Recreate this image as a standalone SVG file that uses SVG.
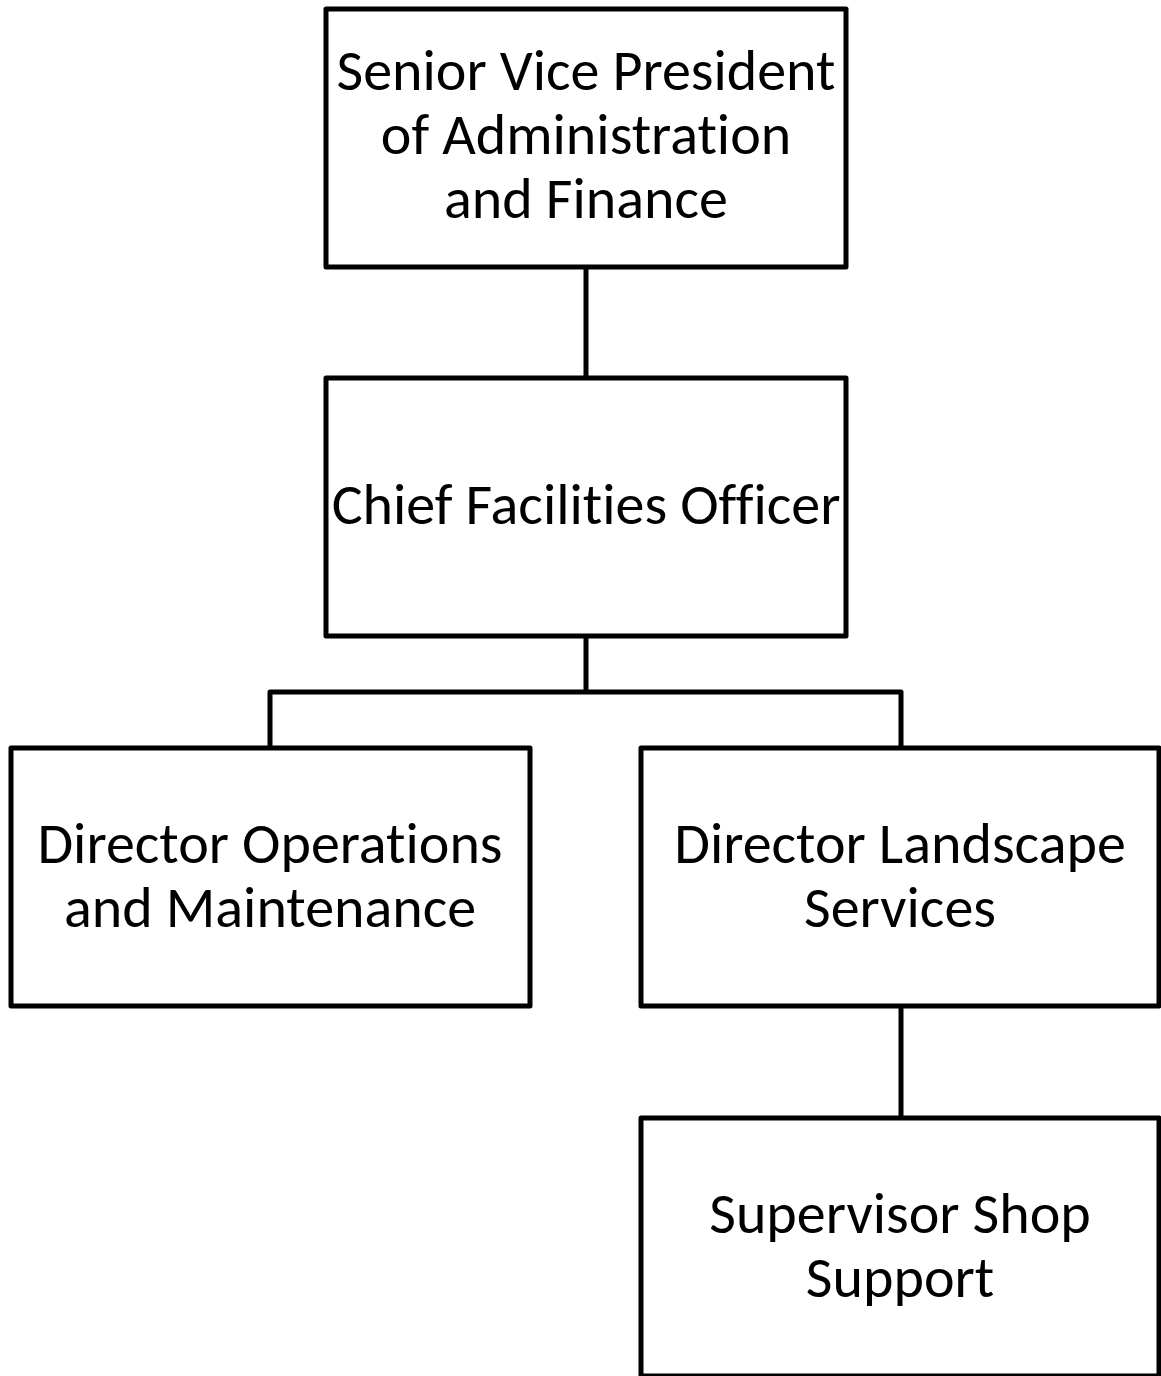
<svg xmlns="http://www.w3.org/2000/svg" width="1161" height="1376" viewBox="0 0 1161 1376">
<style>
.box{fill:#fff;stroke:#000;stroke-width:5;stroke-linejoin:round}
.lbl{font-family:Carlito,"Open Sans",sans-serif;font-size:58px;fill:#000;text-anchor:middle;font-variant-ligatures:none;font-feature-settings:"liga" 0,"clig" 0,"dlig" 0}
.con{fill:none;stroke:#000;stroke-width:5;stroke-linejoin:round}
</style>
<rect width="1161" height="1376" fill="#fff"/>
<g id="connectors">
<path class="con" d="M586,268V378"/>
<path class="con" d="M586,637V692M270,747V692H901V747"/>
<path class="con" d="M901,1007V1117"/>
</g>
<g id="svp">
<rect class="box" x="326" y="9" width="520" height="258"/>
<text class="lbl" x="586" y="90">Senior Vice President</text>
<text class="lbl" x="586" y="154">of Administration</text>
<text class="lbl" x="586" y="218">and Finance</text>
</g>
<g id="cfo">
<rect class="box" x="326" y="378" width="520" height="258"/>
<text class="lbl" x="586" y="524">Chief Facilities Officer</text>
</g>
<g id="dom">
<rect class="box" x="11" y="748" width="519" height="258"/>
<text class="lbl" x="270" y="863">Director Operations</text>
<text class="lbl" x="270" y="927">and Maintenance</text>
</g>
<g id="dls">
<rect class="box" x="641" y="748" width="518" height="258"/>
<text class="lbl" x="900" y="863">Director Landscape</text>
<text class="lbl" x="900" y="927">Services</text>
</g>
<g id="sss">
<rect class="box" x="641" y="1118" width="518" height="258"/>
<text class="lbl" x="900" y="1233">Supervisor Shop</text>
<text class="lbl" x="900" y="1297">Support</text>
</g>
</svg>
